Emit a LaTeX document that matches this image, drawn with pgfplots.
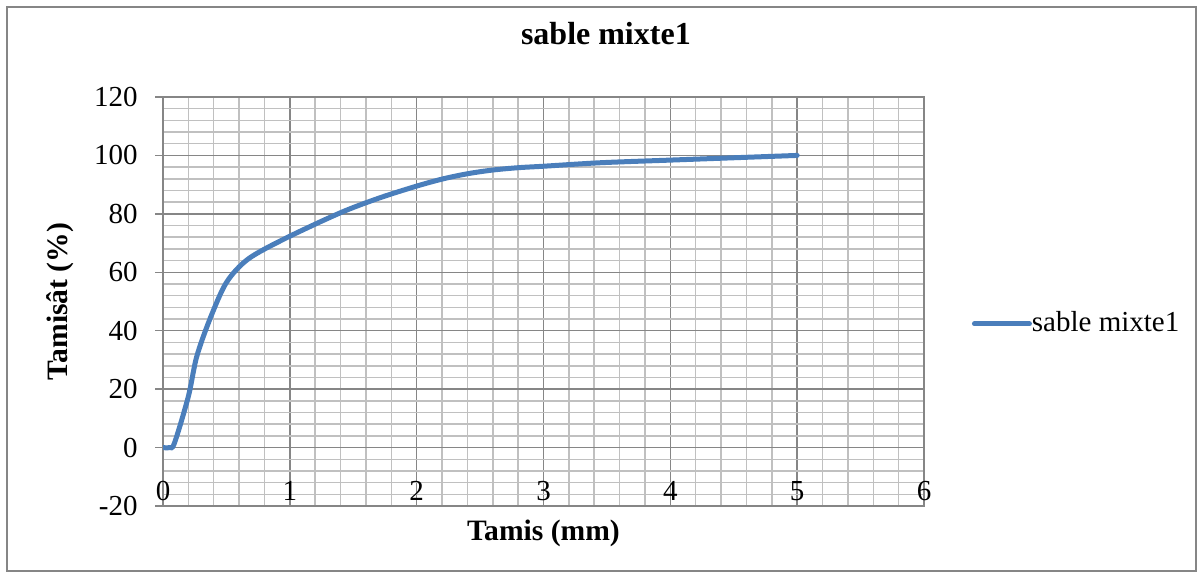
\documentclass[border=0pt]{standalone}
\usepackage{pgfplots}
\pgfplotsset{compat=1.18}
\usepackage{fontspec}
\setmainfont{Liberation Serif}
\definecolor{excelblue}{RGB}{74,126,187}
\definecolor{majgrid}{RGB}{134,134,134}
\definecolor{mingrid}{RGB}{192,192,192}
\begin{document}
\fontsize{14.5bp}{17bp}\selectfont
\begin{tikzpicture}
\path[use as bounding box] (0,0) rectangle (601.5bp,289bp);
\draw[majgrid, line width=1bp] (3.5bp,3.5bp) rectangle (598bp,285.5bp);
\begin{axis}[
 at={(81.5bp,36bp)}, anchor=south west,
 scale only axis, width=380.5bp, height=204.5bp,
 xmin=0, xmax=6, ymin=-20, ymax=120,
 xtick={0,1,...,6}, ytick={-20,0,20,...,120},
 minor x tick num=4, minor y tick num=4,
 grid=both,
 major grid style={majgrid, line width=0.75bp},
 minor grid style={mingrid, line width=0.75bp},
 axis line style={majgrid, line width=0.75bp},
 tick style={majgrid, line width=0.75bp},
 xtick style={draw=none},
 ytick pos=left,
 minor tick length=0pt,
 major tick length=4bp,
 tick align=outside,
 /pgf/number format/assume math mode=true,
 ticklabel style={font=\fontsize{14.5bp}{17bp}\selectfont, inner sep=0pt},
 yticklabel style={anchor=east, xshift=-8.5bp},
 xticklabel style={anchor=center, yshift=11.5bp},
 xlabel={\bfseries Tamis (mm)},
 ylabel={\bfseries Tamisât (\%)},
 xlabel style={at={(axis description cs:0.5,-0.066)}, anchor=center, font=\fontsize{14.8bp}{17bp}\selectfont},
 ylabel style={at={(axis description cs:-0.1353,0.5)}, anchor=center, rotate=0, font=\fontsize{14.8bp}{17bp}\selectfont},
 title={\bfseries sable mixte1},
 title style={at={(axis description cs:0.582,1.127)}, anchor=center, font=\fontsize{16bp}{19bp}\selectfont},
 legend style={at={(axis description cs:1.063,0.445)}, anchor=west, draw=none, fill=none, inner sep=0pt, outer sep=0pt,
   font=\fontsize{14.5bp}{17bp}\selectfont, nodes={inner sep=0pt, anchor=west},
   /tikz/every even column/.append style={column sep=0pt}},
 legend image code/.code={\draw[#1, line width=2.5bp, line cap=round] (0bp,0bp) -- (27.5bp,0bp);},
]
\addplot[excelblue, line width=2.5bp, smooth, tension=0.5, line cap=round] coordinates {
 (0,0) (0.05,0) (0.09,1.5) (0.2,17.5) (0.265,31) (0.37,44) (0.5,56.5) (0.67,64.5) (0.96,71.5)
 (1.4,80.4) (1.71,85.5) (2.0,89.5) (2.21,92) (2.41,93.8) (2.6,95) (2.8,95.8) (3.0,96.3)
 (3.45,97.5) (4.0,98.4) (4.5,99.2) (5.0,100)
};
\addlegendentry{sable mixte1}
\end{axis}
\end{tikzpicture}
\end{document}
